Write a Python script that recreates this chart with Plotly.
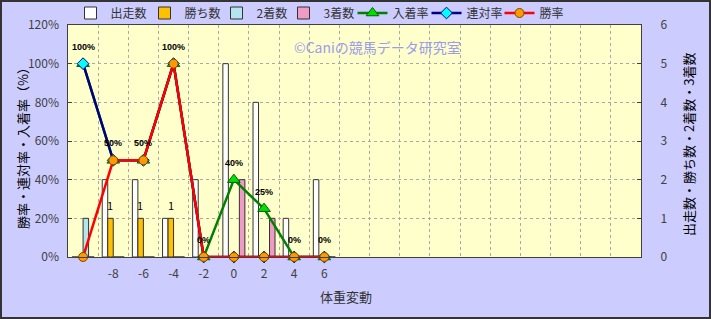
import plotly.graph_objects as go

# ---- data ----
categories = [-10, -8, -6, -4, -2, 0, 2, 4, 6]
tick_vals = [-8, -6, -4, -2, 0, 2, 4, 6]
tick_text = ["-8", "-6", "-4", "-2", "0", "2", "4", "6"]

starts = [0, 2, 2, 1, 2, 5, 4, 1, 2]      # 出走数
wins = [0, 1, 1, 1, 0, 0, 0, 0, 0]        # 勝ち数
seconds = [1, 0, 0, 0, 0, 0, 0, 0, 0]     # 2着数
thirds = [0, 0, 0, 0, 0, 2, 1, 0, 0]      # 3着数
win_labels = ["", "1", "1", "1", "", "", "", "", ""]

place_rate = [100, 50, 50, 100, 0, 40, 25, 0, 0]   # 入着率
quinella_rate = [100, 50, 50, 100, 0, 0, 0, 0, 0]  # 連対率
win_rate = [0, 50, 50, 100, 0, 0, 0, 0, 0]         # 勝率
rate_labels = ["100%", "50%", "50%", "100%", "0%", "40%", "25%", "0%", "0%"]

FONT = "Noto Sans CJK JP"
W, H = 711, 319
ML, MR, MT, MB = 68, 70, 25, 62
PW, PH = W - ML - MR, H - MT - MB


def px_x(p):
    return (p - ML) / PW


def px_y(p):
    return (MT + PH - p) / PH


fig = go.Figure()

bar_specs = [
    ("出走数", starts, "#FFFFFF", 29),
    ("勝ち数", wins, "#FFC000", 27),
    ("2着数", seconds, "#B4E4EE", 22),
    ("3着数", thirds, "#EE9BC6", 24),
]
for name, vals, col, lw in bar_specs:
    fig.add_trace(go.Bar(x=categories, y=vals, name=name, yaxis="y", legendwidth=lw,
                         marker=dict(color=col, line=dict(color="#333333", width=1)),
                         cliponaxis=False))

fig.add_trace(go.Scatter(x=categories, y=place_rate, name="入着率", yaxis="y2",
                         mode="lines+markers", cliponaxis=False, legendwidth=29,
                         line=dict(color="#008000", width=2.5),
                         marker=dict(symbol="triangle-up", size=11, color="#00E000",
                                     line=dict(color="#006000", width=1))))
fig.add_trace(go.Scatter(x=categories, y=quinella_rate, name="連対率", yaxis="y2",
                         mode="lines+markers", cliponaxis=False, legendwidth=28,
                         line=dict(color="#000080", width=2.5),
                         marker=dict(symbol="diamond", size=9, color="#00FFFF",
                                     line=dict(color="#000080", width=1))))
fig.add_trace(go.Scatter(x=categories, y=win_rate, name="勝率", yaxis="y2",
                         mode="lines+markers", cliponaxis=False,
                         line=dict(color="#FF0000", width=2.5),
                         marker=dict(symbol="circle", size=9, color="#FF9900",
                                     line=dict(color="#7A4A00", width=1))))

annotations = []
for c, v, t in zip(categories, place_rate, rate_labels):
    annotations.append(dict(x=c, y=v, xref="x", yref="y2", text="<b>" + t + "</b>",
                            showarrow=False, yshift=17, xanchor="center", yanchor="middle",
                            font=dict(family="Liberation Sans", size=9, color="#000000")))
for c, v, t in zip(categories, wins, win_labels):
    if t:
        annotations.append(dict(x=c, y=v, xref="x", yref="y", text=t,
                                showarrow=False, yshift=13, xshift=-3,
                                xanchor="center", yanchor="middle",
                                font=dict(family=FONT, size=11, color="#000000")))

annotations += [
    dict(x=px_x(22), y=px_y(145), xref="paper", yref="paper", xanchor="center",
         yanchor="middle", text="勝率・連対率・入着率（%）", textangle=-90, showarrow=False,
         font=dict(family=FONT, size=13, color="#000000")),
    dict(x=px_x(688), y=px_y(145), xref="paper", yref="paper", xanchor="center",
         yanchor="middle", text="出走数・勝ち数・2着数・3着数", textangle=-90, showarrow=False,
         font=dict(family=FONT, size=13, color="#000000")),
    dict(x=px_x(346), y=px_y(296), xref="paper", yref="paper", xanchor="center",
         yanchor="middle", text="体重変動", showarrow=False,
         font=dict(family=FONT, size=13, color="#333333")),
    dict(x=px_x(377), y=px_y(47), xref="paper", yref="paper", xanchor="center",
         yanchor="middle", text="©Caniの競馬データ研究室", showarrow=False,
         font=dict(family=FONT, size=14, color="#9C9CE8")),
]

grid = dict(gridcolor="#A8A8A8", griddash="dot", gridwidth=1)

fig.update_layout(
    width=W, height=H,
    margin=dict(l=ML, r=MR, t=MT, b=MB, autoexpand=False),
    paper_bgcolor="#CCCCFF", plot_bgcolor="#FFFFCC",
    font=dict(family=FONT, size=12, color="#333333"),
    barmode="group", bargap=0.27, bargroupgap=0,
    showlegend=True,
    legend=dict(orientation="h", x=px_x(70.5), xanchor="left", y=px_y(13), yanchor="middle",
                bgcolor="rgba(0,0,0,0)", font=dict(family=FONT, size=12, color="#333333"),
                itemwidth=30, traceorder="normal"),
    xaxis=dict(range=[-11, 27], tickmode="array", tickvals=tick_vals, ticktext=tick_text,
               showgrid=False, zeroline=False, showline=True, linecolor="#404040",
               mirror=True, ticks="", ticklabelstandoff=6,
               tickfont=dict(family=FONT, size=12, color="#404040"),
               minor=dict(tickmode="linear", tick0=-9, dtick=2, showgrid=True, ticks="", **grid)),
    yaxis=dict(side="right", range=[0, 6], dtick=1, showgrid=True, **grid,
               zeroline=False, showline=True, linecolor="#404040", mirror=True,
               ticks="inside", ticklen=4, tickcolor="#404040", ticklabelstandoff=16,
               tickfont=dict(family=FONT, size=12, color="#404040")),
    yaxis2=dict(side="left", overlaying="y", range=[0, 120], dtick=20, ticksuffix="%",
                showgrid=False, zeroline=False, ticks="inside", ticklen=4,
                tickcolor="#404040", ticklabelstandoff=8,
                tickfont=dict(family=FONT, size=12, color="#404040")),
    annotations=annotations,
    shapes=[dict(type="rect", xref="paper", yref="paper",
                 x0=-(ML - 1) / PW, x1=1 + (MR - 1) / PW,
                 y0=-(MB - 1) / PH, y1=1 + (MT - 1) / PH,
                 line=dict(color="#333333", width=2), layer="above")],
)

fig.write_html("out.html")
